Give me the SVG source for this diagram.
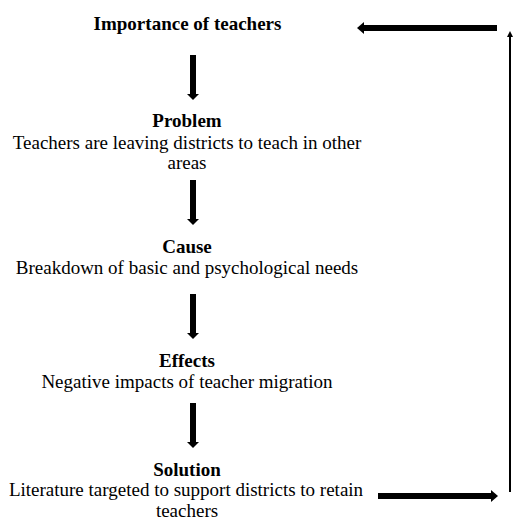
<svg xmlns="http://www.w3.org/2000/svg" width="513" height="519" viewBox="0 0 513 519">
<style>
.t{font-size:19px;fill:#000;text-anchor:middle}
.b{font-weight:bold}
.shaft{stroke:#000;stroke-width:6;fill:none}
.head{fill:#000}
</style>
<rect width="513" height="519" fill="#fff"/>
<g font-family="Liberation Serif, DejaVu Serif, serif">
<g id="importance"><text class="t b" x="187.5" y="30">Importance of teachers</text></g>
<g id="problem"><text class="t b" x="187" y="127">Problem</text><text class="t" x="187" y="148.5">Teachers are leaving districts to teach in other</text><text class="t" x="187" y="169">areas</text></g>
<g id="cause"><text class="t b" x="187" y="252.5">Cause</text><text class="t" x="187" y="273.5">Breakdown of basic and psychological needs</text></g>
<g id="effects"><text class="t b" x="187" y="366.5">Effects</text><text class="t" x="187" y="387.5">Negative impacts of teacher migration</text></g>
<g id="solution"><text class="t b" x="187" y="475.5">Solution</text><text class="t" x="186" y="496">Literature targeted to support districts to retain</text><text class="t" x="187" y="516.5">teachers</text></g>
</g>
<g id="connectors">
<path class="shaft" d="M193 55V95"/><path class="head" d="M187 94H199L193 100Z"/>
<path class="shaft" d="M193 180V220"/><path class="head" d="M187 219H199L193 225Z"/>
<path class="shaft" d="M193 294V334"/><path class="head" d="M187 333H199L193 339Z"/>
<path class="shaft" d="M193 403V443"/><path class="head" d="M187 442H199L193 448Z"/>
<path class="shaft" d="M378 496H492"/><path class="head" d="M491 490V502L498 496Z"/>
<path d="M510 492V36" stroke="#000" stroke-width="2" fill="none"/><path class="head" d="M507 37H513L510 31Z"/>
<path class="shaft" d="M497 28H363"/><path class="head" d="M364 22V34L357 28Z"/>
</g>
</svg>
